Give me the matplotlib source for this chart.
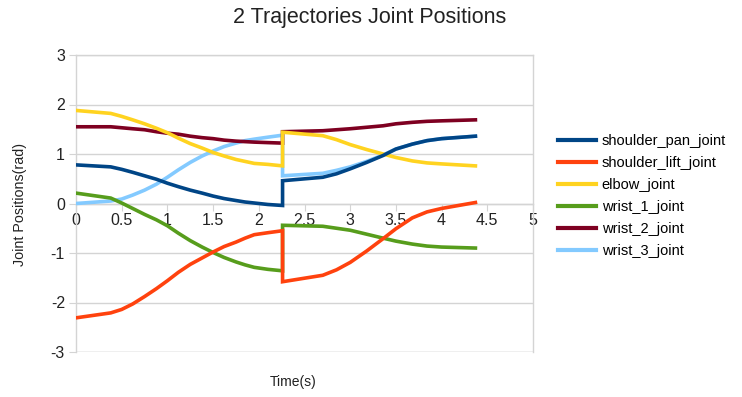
import matplotlib
matplotlib.use("Agg")
import matplotlib.pyplot as plt

plt.rcParams['font.family'] = ['Liberation Sans', 'DejaVu Sans']

# time stamps (two trajectories, second starts where first ends)
t1 = [0, 0.38, 0.5, 0.62, 0.75, 0.88, 1.0, 1.12, 1.25, 1.38, 1.5, 1.62, 1.75, 1.85, 1.95, 2.1, 2.26]
t2 = [2.26, 2.7, 2.85, 3.0, 3.18, 3.36, 3.5, 3.68, 3.84, 4.0, 4.37]

shoulder_pan = [0.78, 0.74, 0.69, 0.63, 0.56, 0.49, 0.41, 0.34, 0.27, 0.21, 0.15, 0.10, 0.06, 0.03, 0.01, -0.02, -0.04,
                0.46, 0.53, 0.60, 0.70, 0.83, 0.97, 1.10, 1.20, 1.27, 1.31, 1.36]
shoulder_lift = [-2.31, -2.21, -2.14, -2.03, -1.88, -1.72, -1.56, -1.39, -1.23, -1.10, -0.98, -0.87, -0.78, -0.70, -0.63, -0.59, -0.55,
                 -1.58, -1.45, -1.34, -1.19, -0.96, -0.71, -0.51, -0.29, -0.17, -0.10, 0.02]
elbow = [1.88, 1.82, 1.76, 1.69, 1.61, 1.52, 1.43, 1.32, 1.21, 1.12, 1.03, 0.96, 0.89, 0.85, 0.81, 0.79, 0.76,
         1.44, 1.37, 1.29, 1.19, 1.09, 1.00, 0.93, 0.86, 0.82, 0.80, 0.76]
wrist_1 = [0.21, 0.11, 0.01, -0.10, -0.22, -0.33, -0.45, -0.60, -0.75, -0.88, -0.99, -1.09, -1.18, -1.24, -1.29, -1.33, -1.36,
           -0.44, -0.46, -0.50, -0.54, -0.62, -0.70, -0.76, -0.82, -0.86, -0.88, -0.90]
wrist_2 = [1.55, 1.55, 1.53, 1.51, 1.49, 1.45, 1.42, 1.40, 1.36, 1.33, 1.31, 1.28, 1.26, 1.25, 1.24, 1.23, 1.22,
           1.45, 1.47, 1.49, 1.51, 1.54, 1.57, 1.61, 1.64, 1.66, 1.67, 1.69]
wrist_3 = [0.0, 0.05, 0.09, 0.17, 0.27, 0.39, 0.53, 0.68, 0.83, 0.96, 1.06, 1.15, 1.22, 1.27, 1.30, 1.34, 1.38,
           0.56, 0.61, 0.67, 0.74, 0.85, 0.98, 1.10, 1.20, 1.27, 1.31, 1.36]

names = ["shoulder_pan_joint", "shoulder_lift_joint", "elbow_joint",
         "wrist_1_joint", "wrist_2_joint", "wrist_3_joint"]
series = [shoulder_pan, shoulder_lift, elbow, wrist_1, wrist_2, wrist_3]
colors = ["#004586", "#ff420e", "#ffd320", "#579d1c", "#7e0021", "#83caff"]

x_ticks = [0, 0.5, 1, 1.5, 2, 2.5, 3, 3.5, 4, 4.5, 5]
x_ticklabels = ["0", "0.5", "1", "1.5", "2", "2.5", "3", "3.5", "4", "4.5", "5"]
y_ticks = [-3, -2, -1, 0, 1, 2, 3]

t = t1 + t2

fig = plt.figure(figsize=(7.42, 3.97), dpi=100)
ax = fig.add_axes([76/742, 1-352/397, (533-76)/742, (352-55)/397])

n = len(series)
for i, (name, vals, c) in enumerate(zip(names, series, colors)):
    ax.plot(t, vals, color=c, lw=2.6, label=name, zorder=3 + (n - i) * 0.1,
            solid_joinstyle='miter')

ax.set_xlim(0, 5)
ax.set_ylim(-3, 3)
ax.set_yticks(y_ticks)
ax.set_yticklabels([str(v) for v in y_ticks])
ax.set_xticks(x_ticks)
ax.set_xticklabels(x_ticklabels)
ax.grid(axis='y', color='#d4d4d4', lw=1.0, zorder=0)
for s in ['top', 'right', 'left']:
    ax.spines[s].set_color('#d4d4d4')
    ax.spines[s].set_linewidth(1.0)
ax.spines['bottom'].set_position(('data', 0))
ax.spines['bottom'].set_color('#d4d4d4')
ax.spines['bottom'].set_linewidth(1.0)
ax.axhline(-3, color='#d4d4d4', lw=1.0, zorder=0)
ax.tick_params(axis='x', direction='out', length=5, color='#d4d4d4',
               labelsize=11.5, pad=2, labelcolor='#222222')
ax.tick_params(axis='y', direction='out', length=5, color='#d4d4d4',
               labelsize=11.5, pad=3, labelcolor='#222222')

fig.text(370/742, 1-18/397, "2 Trajectories Joint Positions", ha='center', va='center',
         fontsize=15.5, color='#222222')
fig.text(293/742, 1-382/397, "Time(s)", ha='center', va='center', fontsize=10,
         color='#222222')
fig.text(20/742, 1-204/397, "Joint Positions(rad)", ha='center', va='center',
         rotation=90, fontsize=10.3, color='#222222')

leg = fig.legend(loc='upper left', bbox_to_anchor=(552/742, 1-128/397), frameon=False,
                 fontsize=10.5, handlelength=2.6, handletextpad=0.4, labelspacing=0.55,
                 borderaxespad=0)
for h in leg.get_lines():
    h.set_linewidth(3)

fig.savefig("out.png", dpi=100)
